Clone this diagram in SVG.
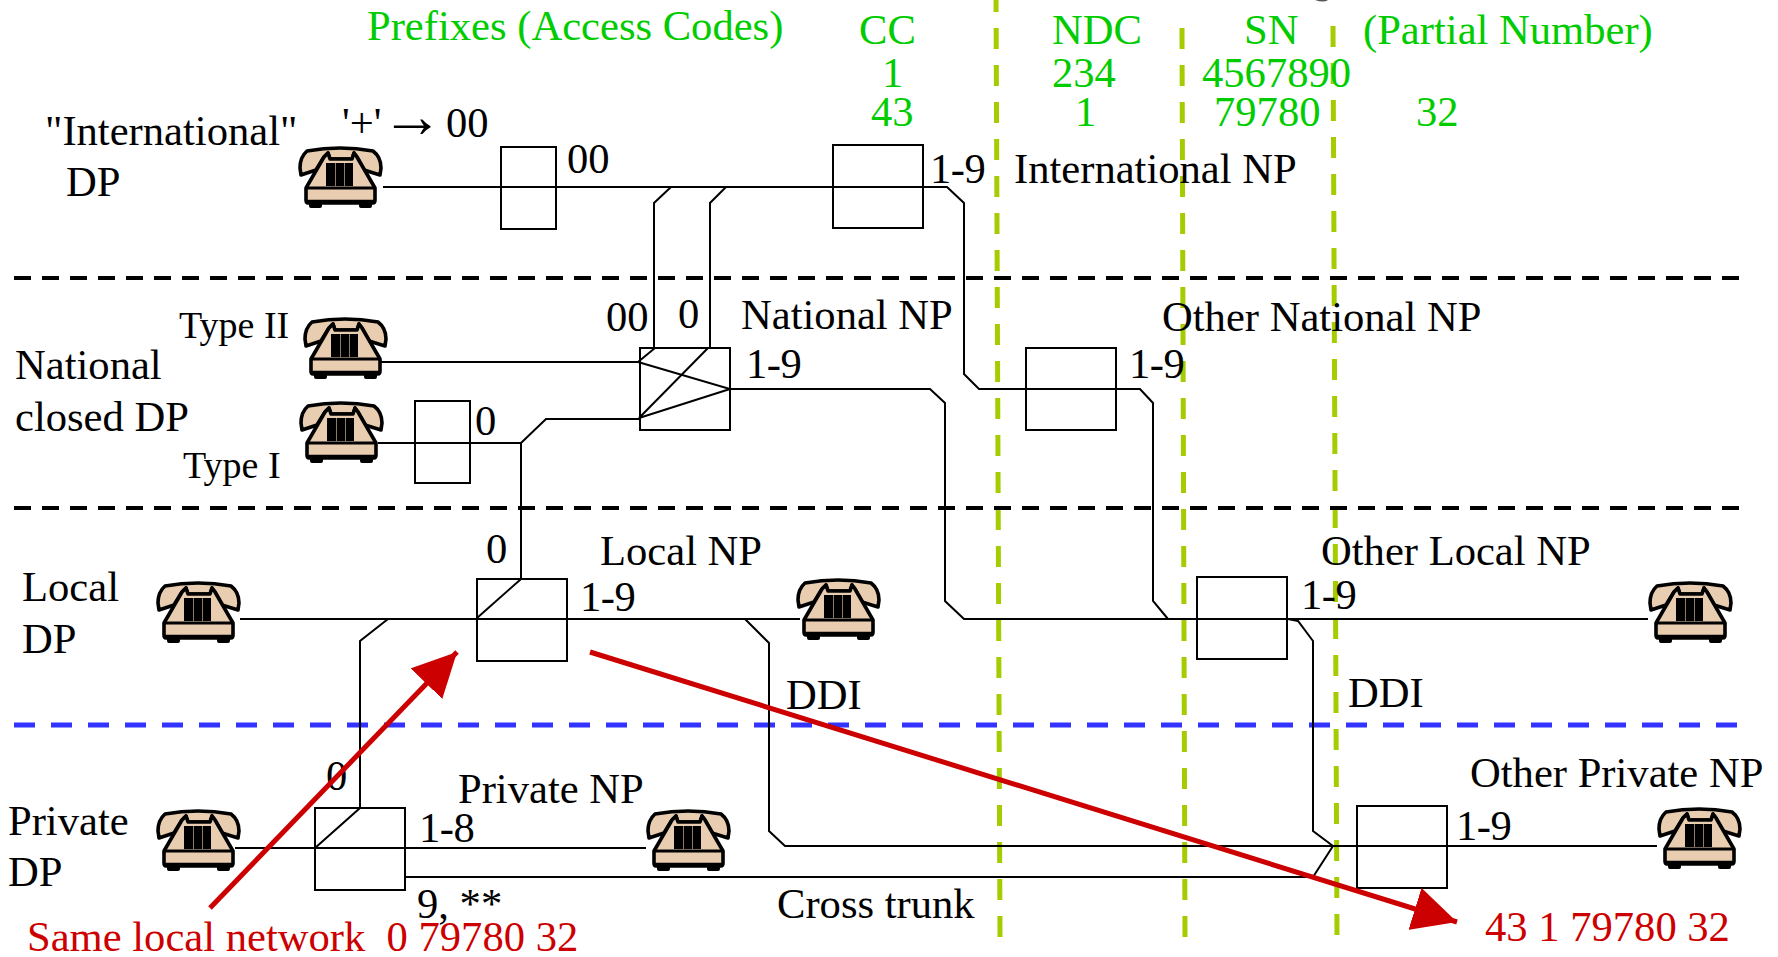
<svg xmlns="http://www.w3.org/2000/svg" width="1778" height="957" viewBox="0 0 1778 957">
<style>
text{font-family:"Liberation Serif","Times New Roman",serif;font-size:42.6px;fill:#000;white-space:pre}
.g{fill:#00cc00}
.r{fill:#cc0000}
.sm{font-size:38px}
.n{letter-spacing:-.5px}
.box{fill:none;stroke:#000;stroke-width:2}
.w{fill:none;stroke:#000;stroke-width:2}
.dk{fill:none;stroke:#000;stroke-width:4;stroke-dasharray:17 11}
.db{fill:none;stroke:#3333ff;stroke-width:5;stroke-dasharray:21 16}
.dg{fill:none;stroke:#a4cc00;stroke-width:5;stroke-dasharray:21 16}
.ar{fill:none;stroke:#cc0000;stroke-width:5;marker-end:url(#ah)}
</style>
<defs>
<marker id="ah" markerUnits="userSpaceOnUse" markerWidth="48" markerHeight="44" refX="44" refY="22" orient="auto"><path d="M0,0L44,22L0,44Z" fill="#cc0000"/></marker>
<g id="phone">
<path d="M9,5Q42,-1 75,5Q83,11 83,22L82,29L66,24L59,11L56,7L54,13L32,13L30,7L26,11L18,24L3,29L2,22Q2,11 9,5Z" fill="#e8cdb0" stroke="#000" stroke-width="3.6" stroke-linejoin="round"/>
<path d="M26,11L30,7L32,13L54,13L56,7L59,11L77,42V54Q77,57 75,57H10Q8,57 8,54V42Z" fill="#e8cdb0" stroke="#000" stroke-width="3.6" stroke-linejoin="round"/>
<path d="M8,42H77" stroke="#000" stroke-width="3"/>
<path d="M8,55H77" stroke="#000" stroke-width="2.5"/>
<path d="M11,57H24V60Q24,62 22,62H13Q11,62 11,60ZM61,57H74V60Q74,62 72,62H63Q61,62 61,60Z" fill="#000"/>
<rect x="28" y="17" width="9.4" height="23" fill="#000"/><rect x="38" y="17" width="8.4" height="23" fill="#000"/><rect x="47" y="17" width="8" height="23" fill="#000"/>
</g>
</defs>
<g id="guides">
<path class="dg" d="M996,-9L1000,937"/>
<path class="dg" d="M1182,28L1185,937"/>
<path class="dg" d="M1333,26L1337,937"/>
<path class="dk" d="M14,278H1740"/>
<path class="dk" d="M14,508H1740"/>
<path class="db" d="M14,725H1740"/>
</g>
<g id="connectors">
<path class="w" d="M383,187H947L964,203V374L979,389H1140L1153,403V601L1168,619"/>
<path class="w" d="M654,348V203L671,187M710,348V203L726,187"/>
<path class="w" d="M380,362H638L655,348M638,362L730,389L639,418L708,348M730,389H930L945,403V601L964,619H1648"/>
<path class="w" d="M378,443H521L546,419H639M521,443V579L477,618"/>
<path class="w" d="M240,619H800M745,619L769,643V831L785,846H1648M388,619L360,641V808L315,848M235,848H646"/>
<path class="w" d="M1288,619L1298,621L1313,641V831L1333,846L1313,877H404"/>
<path class="w" d="M1448,846H1657"/>
</g>
<g id="box-intl-prefix"><rect class="box" x="501" y="147" width="55" height="82"/></g>
<g id="box-cc"><rect class="box" x="833" y="145" width="90" height="83"/></g>
<g id="box-national"><rect class="box" x="640" y="348" width="90" height="82"/></g>
<g id="box-type1"><rect class="box" x="415" y="401" width="55" height="82"/></g>
<g id="box-other-national"><rect class="box" x="1026" y="348" width="90" height="82"/></g>
<g id="box-local"><rect class="box" x="477" y="579" width="90" height="82"/></g>
<g id="box-other-local"><rect class="box" x="1197" y="577" width="90" height="82"/></g>
<g id="box-private"><rect class="box" x="315" y="808" width="90" height="82"/></g>
<g id="box-other-private"><rect class="box" x="1357" y="806" width="90" height="82"/></g>
<g id="phones">
<use href="#phone" x="298" y="146"/>
<use href="#phone" x="303" y="317"/>
<use href="#phone" x="299" y="401"/>
<use href="#phone" x="156" y="581"/>
<use href="#phone" x="796" y="578"/>
<use href="#phone" x="1648" y="581"/>
<use href="#phone" x="156" y="809"/>
<use href="#phone" x="646" y="809"/>
<use href="#phone" x="1657" y="807"/>
</g>
<g id="labels">
<text class="g" x="367" y="40">Prefixes (Access Codes)</text>
<text class="g" x="859" y="44">CC</text>
<text class="g" x="882" y="87">1</text>
<text class="g" x="871" y="126">43</text>
<text class="g" x="1052" y="44">NDC</text>
<text class="g" x="1052" y="87">234</text>
<text class="g" x="1075" y="126">1</text>
<text class="g" x="1244" y="44">SN</text>
<text class="g" x="1202" y="87">4567890</text>
<text class="g" x="1214" y="126">79780</text>
<text class="g" x="1363" y="44">(Partial Number)</text>
<text class="g" x="1416" y="126">32</text>
<text x="45" y="145">"International"</text>
<text x="66" y="196">DP</text>
<text x="342" y="137">'+'</text>
<text x="381" y="137" style="font-size:62px">→</text>
<text x="446" y="137">00</text>
<text x="567" y="173">00</text>
<text class="n" x="930" y="183">1-9</text>
<text x="1014" y="183">International NP</text>
<text class="sm" x="179" y="338">Type II</text>
<text x="606" y="331">00</text>
<text x="678" y="328">0</text>
<text x="741" y="329">National NP</text>
<text x="1162" y="331">Other National NP</text>
<text class="n" x="746" y="378">1-9</text>
<text class="n" x="1129" y="378">1-9</text>
<text x="15" y="379">National</text>
<text x="15" y="431">closed DP</text>
<text x="475" y="435">0</text>
<text class="sm" x="183" y="478">Type I</text>
<text x="486" y="563">0</text>
<text x="600" y="565">Local NP</text>
<text x="1321" y="565">Other Local NP</text>
<text x="22" y="601">Local</text>
<text x="22" y="653">DP</text>
<text class="n" x="580" y="611">1-9</text>
<text class="n" x="1301" y="609">1-9</text>
<text x="786" y="709">DDI</text>
<text x="1348" y="707">DDI</text>
<text x="326" y="790">0</text>
<text x="458" y="803">Private NP</text>
<text x="1470" y="787">Other Private NP</text>
<text class="n" x="419" y="842">1-8</text>
<text class="n" x="1456" y="840">1-9</text>
<text x="8" y="835">Private</text>
<text x="8" y="886">DP</text>
<text x="417" y="918">9, **</text>
<text x="777" y="918">Cross trunk</text>
<text class="r" x="27" y="951">Same local network  0 79780 32</text>
<text class="r" x="1485" y="941">43 1 79780 32</text>
</g>
<path d="M1315,0Q1324,3 1328,0Z" fill="#555"/>
<g id="arrows">
<path class="ar" d="M210,908L457,652"/>
<path class="ar" d="M590,652L1457,922"/>
</g>
</svg>
